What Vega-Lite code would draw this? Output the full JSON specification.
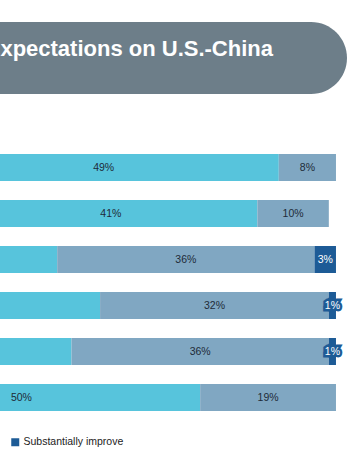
{
  "$schema": "https://vega.github.io/schema/vega-lite/v6.json",
  "background": "white",
  "padding": {"top": 22, "left": 0, "right": 0, "bottom": 0},
  "spacing": 50.5,
  "config": {"view": {"stroke": null}, "font": "Liberation Sans"},
  "vconcat": [
    {
      "width": 364,
      "height": 72,
      "data": {"values": [{"band": "header", "start": 0, "end": 101.54, "title": "Expectations on U.S.-China"}]},
      "encoding": {
        "y": {"field": "band", "type": "nominal", "axis": null, "scale": {"paddingInner": 0, "paddingOuter": 0}}
      },
      "layer": [
        {
          "mark": {"type": "bar", "color": "#6d7e89", "cornerRadiusEnd": 36, "clip": true},
          "encoding": {
            "x": {"field": "start", "type": "quantitative", "axis": null, "scale": {"domain": [53.0, 103.92], "nice": false, "zero": false}},
            "x2": {"field": "end"}
          }
        },
        {
          "mark": {"type": "text", "clip": true, "align": "right", "baseline": "alphabetic", "dx": -74, "dy": -2, "fontSize": 22, "fontWeight": "bold", "color": "white", "font": "Liberation Sans"},
          "encoding": {
            "x": {"field": "end", "type": "quantitative"},
            "text": {"field": "title"}
          }
        }
      ]
    },
    {
      "width": 364,
      "height": 276,
      "data": {"values": [
        {"row": "Row 1", "category": "Worsen", "order": 1, "value": 43},
        {"row": "Row 1", "category": "Stay the same", "order": 2, "value": 49},
        {"row": "Row 1", "category": "Somewhat improve", "order": 3, "value": 8},
        {"row": "Row 2", "category": "Worsen", "order": 1, "value": 48},
        {"row": "Row 2", "category": "Stay the same", "order": 2, "value": 41},
        {"row": "Row 2", "category": "Somewhat improve", "order": 3, "value": 10},
        {"row": "Row 3", "category": "Worsen", "order": 1, "value": 17},
        {"row": "Row 3", "category": "Stay the same", "order": 2, "value": 44},
        {"row": "Row 3", "category": "Somewhat improve", "order": 3, "value": 36},
        {"row": "Row 3", "category": "Substantially improve", "order": 4, "value": 3},
        {"row": "Row 4", "category": "Worsen", "order": 1, "value": 25},
        {"row": "Row 4", "category": "Stay the same", "order": 2, "value": 42},
        {"row": "Row 4", "category": "Somewhat improve", "order": 3, "value": 32},
        {"row": "Row 4", "category": "Substantially improve", "order": 4, "value": 1},
        {"row": "Row 5", "category": "Worsen", "order": 1, "value": 18},
        {"row": "Row 5", "category": "Stay the same", "order": 2, "value": 45},
        {"row": "Row 5", "category": "Somewhat improve", "order": 3, "value": 36},
        {"row": "Row 5", "category": "Substantially improve", "order": 4, "value": 1},
        {"row": "Row 6", "category": "Worsen", "order": 1, "value": 31},
        {"row": "Row 6", "category": "Stay the same", "order": 2, "value": 50},
        {"row": "Row 6", "category": "Somewhat improve", "order": 3, "value": 19}
      ]},
      "transform": [
        {"stack": "value", "groupby": ["row"], "sort": [{"field": "order", "order": "ascending"}], "as": ["x0", "x1"]},
        {"calculate": "(datum.x0 + datum.x1) / 2", "as": "mid"},
        {"calculate": "datum.value + '%'", "as": "label"}
      ],
      "encoding": {
        "y": {"field": "row", "type": "nominal", "axis": null, "scale": {"paddingInner": 0.413, "paddingOuter": 0.2065}}
      },
      "layer": [
        {
          "mark": {"type": "bar", "clip": true},
          "encoding": {
            "x": {"field": "x0", "type": "quantitative", "axis": null, "scale": {"domain": [53.0, 103.92], "nice": false, "zero": false}},
            "x2": {"field": "x1"},
            "color": {
              "field": "category", "type": "nominal",
              "scale": {"domain": ["Worsen", "Stay the same", "Somewhat improve", "Substantially improve"], "range": ["#c9d4dc", "#57c4dc", "#80a7c2", "#1d5b96"]},
              "legend": {"values": ["Substantially improve"], "title": null, "orient": "none", "legendX": 10, "legendY": 415, "symbolType": "square", "symbolSize": 64, "symbolStrokeWidth": 0, "labelFontSize": 10.5, "labelColor": "#222222", "labelOffset": 3, "padding": 0, "labelFont": "Liberation Sans"}
            }
          }
        },
        {
          "transform": [{"filter": "datum.category == 'Substantially improve' && datum.value <= 1"}],
          "mark": {"type": "text", "clip": true, "fontSize": 10.5, "color": "#1d5b96", "stroke": "#1d5b96", "strokeWidth": 5, "strokeJoin": "miter", "font": "Liberation Sans"},
          "encoding": {
            "x": {"field": "mid", "type": "quantitative"},
            "text": {"field": "label"}
          }
        },
        {
          "transform": [{"filter": "datum.category != 'Worsen' && datum.mid > 54"}],
          "mark": {"type": "text", "clip": true, "fontSize": 10.5, "font": "Liberation Sans"},
          "encoding": {
            "x": {"field": "mid", "type": "quantitative"},
            "text": {"field": "label"},
            "color": {
              "condition": {"test": "datum.category == 'Substantially improve'", "value": "#ffffff"},
              "value": "#1e2b38"
            }
          }
        }
      ]
    }
  ]
}
